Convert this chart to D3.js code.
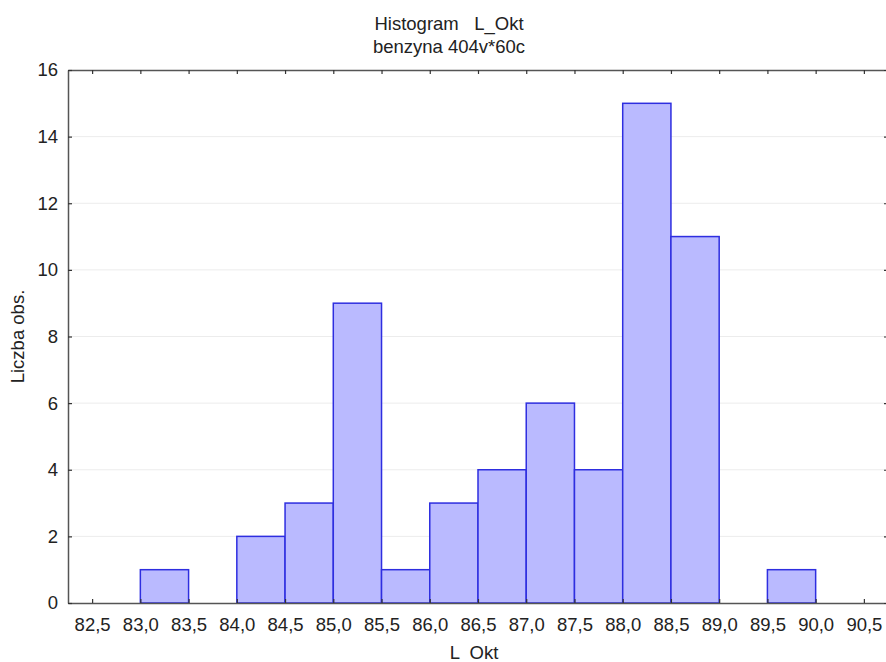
<!DOCTYPE html>
<html>
<head>
<meta charset="utf-8">
<script src="https://cdn.jsdelivr.net/npm/d3@7"></script>
<style>
body { margin: 0; background: #fff; }
text { font-family: "Liberation Sans", Arial, sans-serif; fill: #222; }
</style>
</head>
<body>
<div id="chart-area"></div>
<script>
var width = 886;
var height = 662;

// histogram bins (lower edge) and counts
var binStarts = [83.0, 84.0, 84.5, 85.0, 85.5, 86.0, 86.5, 87.0, 87.5, 88.0, 88.5, 89.5];
var counts = [1, 2, 3, 9, 1, 3, 4, 6, 4, 15, 11, 1];
var binWidth = 0.5;
var xTicks = [82.5, 83.0, 83.5, 84.0, 84.5, 85.0, 85.5, 86.0, 86.5, 87.0, 87.5, 88.0, 88.5, 89.0, 89.5, 90.0, 90.5];
var yTicks = [0, 2, 4, 6, 8, 10, 12, 14, 16];

var plotLeft = 68, plotRight = 888, plotTop = 70, plotBottom = 603;

var svg = d3.select("#chart-area").append("svg")
    .attr("width", width)
    .attr("height", height);

var x = d3.scaleLinear()
    .domain([82.25, 90.75])
    .range([plotLeft, plotRight]);

var y = d3.scaleLinear()
    .domain([0, 16])
    .range([plotBottom, plotTop]);

// gridlines
svg.selectAll("line.grid")
    .data(yTicks.slice(1, -1))
    .enter()
    .append("line")
    .attr("class", "grid")
    .attr("x1", plotLeft)
    .attr("x2", plotRight)
    .attr("y1", function(d) { return y(d); })
    .attr("y2", function(d) { return y(d); })
    .attr("stroke", "#ececec")
    .attr("stroke-width", 1);

// bars
var data = binStarts.map(function(b, i) { return {x0: b, n: counts[i]}; });
svg.selectAll("rect.bar")
    .data(data)
    .enter()
    .append("rect")
    .attr("class", "bar")
    .attr("x", function(d) { return x(d.x0); })
    .attr("y", function(d) { return y(d.n); })
    .attr("width", function(d) { return x(d.x0 + binWidth) - x(d.x0); })
    .attr("height", function(d) { return y(0) - y(d.n); })
    .attr("fill", "#babaff")
    .attr("stroke", "#2e2ee0")
    .attr("stroke-width", 1.5);

// axes (ticks pointing inward)
var axisColor = "#555";
var bottomAxis = svg.append("g")
    .attr("transform", "translate(0," + plotBottom + ")")
    .call(d3.axisBottom(x).tickValues(xTicks).tickSizeInner(-4).tickSizeOuter(0)
        .tickFormat(function(d) { return d3.format(".1f")(d).replace(".", ","); }));
bottomAxis.selectAll("text").attr("dy", null).attr("y", 28).style("font-size", "18.5px");

var topAxis = svg.append("g")
    .attr("transform", "translate(0," + plotTop + ")")
    .call(d3.axisTop(x).tickValues(xTicks).tickSizeInner(-4).tickSizeOuter(0).tickFormat(""));

var leftAxis = svg.append("g")
    .attr("transform", "translate(" + plotLeft + ",0)")
    .call(d3.axisLeft(y).tickValues(yTicks).tickSizeInner(-4).tickSizeOuter(0));
leftAxis.selectAll("text").attr("x", -10).style("font-size", "18.5px");

var rightAxis = svg.append("g")
    .attr("transform", "translate(" + plotRight + ",0)")
    .call(d3.axisRight(y).tickValues(yTicks).tickSizeInner(-4).tickSizeOuter(0).tickFormat(""));

[bottomAxis, topAxis, leftAxis, rightAxis].forEach(function(g) {
    g.select(".domain").attr("stroke", axisColor).attr("stroke-width", 1.5);
    g.selectAll(".tick line").attr("stroke", "#333").attr("stroke-width", 1.2);
    g.selectAll("text").attr("fill", "#222").style("font-family", "'Liberation Sans', Arial, sans-serif");
});

// titles
svg.append("text")
    .attr("x", 449)
    .attr("y", 30)
    .attr("text-anchor", "middle")
    .style("font-size", "18.5px")
    .style("white-space", "pre")
    .text("Histogram   L_Okt");

svg.append("text")
    .attr("x", 449)
    .attr("y", 53)
    .attr("text-anchor", "middle")
    .style("font-size", "18.5px")
    .text("benzyna 404v*60c");

svg.append("text")
    .attr("x", 474)
    .attr("y", 659)
    .attr("text-anchor", "middle")
    .style("font-size", "18.5px")
    .style("white-space", "pre")
    .text("L  Okt");

svg.append("text")
    .attr("transform", "translate(24," + ((plotTop + plotBottom) / 2) + ") rotate(-90)")
    .attr("text-anchor", "middle")
    .style("font-size", "18.5px")
    .text("Liczba obs.");
</script>
</body>
</html>
